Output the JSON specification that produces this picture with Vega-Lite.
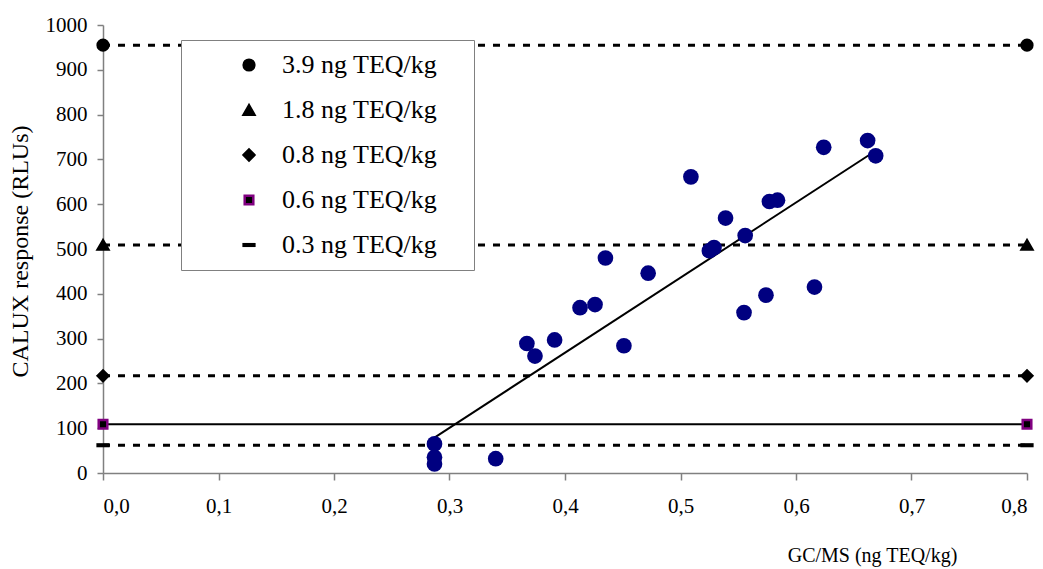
{
  "$schema": "https://vega.github.io/schema/vega-lite/v6.json",
  "width": 924,
  "height": 448,
  "autosize": {"type": "none"},
  "padding": {"left": 103, "top": 25, "right": 16, "bottom": 96},
  "background": "white",
  "config": {
    "view": {"stroke": null},
    "font": "Liberation Serif",
    "axis": {
      "grid": false,
      "domainColor": "#808080",
      "domainWidth": 1.5,
      "tickColor": "#808080",
      "tickWidth": 1.5,
      "labelFont": "Liberation Serif",
      "labelFontSize": 21,
      "labelColor": "black",
      "titleFont": "Liberation Serif",
      "titleFontWeight": "normal",
      "titleColor": "black"
    },
    "legend": {
      "labelFont": "Liberation Serif",
      "labelFontSize": 26,
      "labelColor": "black"
    }
  },
  "datasets": {
    "samples": [
      {"gcms": 0.287, "calux": 65},
      {"gcms": 0.287, "calux": 35},
      {"gcms": 0.287, "calux": 20},
      {"gcms": 0.340, "calux": 32},
      {"gcms": 0.367, "calux": 289},
      {"gcms": 0.374, "calux": 261},
      {"gcms": 0.391, "calux": 297},
      {"gcms": 0.413, "calux": 369},
      {"gcms": 0.426, "calux": 376},
      {"gcms": 0.435, "calux": 480},
      {"gcms": 0.451, "calux": 284},
      {"gcms": 0.472, "calux": 446},
      {"gcms": 0.509, "calux": 661},
      {"gcms": 0.525, "calux": 496},
      {"gcms": 0.529, "calux": 503},
      {"gcms": 0.539, "calux": 569},
      {"gcms": 0.556, "calux": 530},
      {"gcms": 0.555, "calux": 358},
      {"gcms": 0.574, "calux": 397},
      {"gcms": 0.577, "calux": 606},
      {"gcms": 0.584, "calux": 609},
      {"gcms": 0.616, "calux": 415},
      {"gcms": 0.624, "calux": 727},
      {"gcms": 0.662, "calux": 742},
      {"gcms": 0.669, "calux": 708}
    ],
    "refs": [
      {"level": "3.9 ng TEQ/kg", "gcms": 0, "calux": 955},
      {"level": "3.9 ng TEQ/kg", "gcms": 0.8, "calux": 955},
      {"level": "1.8 ng TEQ/kg", "gcms": 0, "calux": 509},
      {"level": "1.8 ng TEQ/kg", "gcms": 0.8, "calux": 509},
      {"level": "0.8 ng TEQ/kg", "gcms": 0, "calux": 217},
      {"level": "0.8 ng TEQ/kg", "gcms": 0.8, "calux": 217},
      {"level": "0.6 ng TEQ/kg", "gcms": 0, "calux": 109},
      {"level": "0.6 ng TEQ/kg", "gcms": 0.8, "calux": 109},
      {"level": "0.3 ng TEQ/kg", "gcms": 0, "calux": 62},
      {"level": "0.3 ng TEQ/kg", "gcms": 0.8, "calux": 62}
    ],
    "fit": [
      {"gcms": 0.287, "calux": 79},
      {"gcms": 0.670, "calux": 721}
    ]
  },
  "encoding": {
    "x": {
      "field": "gcms",
      "type": "quantitative",
      "scale": {"domain": [0, 0.8], "nice": false, "zero": false},
      "axis": {
        "values": [0, 0.1, 0.2, 0.3, 0.4, 0.5, 0.6, 0.7, 0.8],
        "labelExpr": "replace(format(datum.value, '.1f'), '.', ',')",
        "tickSize": 7,
        "labelPadding": 15,
        "title": "GC/MS (ng TEQ/kg)",
        "titleFontSize": 20,
        "titleX": 769,
        "titleY": 82,
        "titleAlign": "center",
        "titleBaseline": "middle"
      }
    },
    "y": {
      "field": "calux",
      "type": "quantitative",
      "scale": {"domain": [0, 1000], "nice": false},
      "axis": {
        "values": [0, 100, 200, 300, 400, 500, 600, 700, 800, 900, 1000],
        "format": "d",
        "tickSize": 6,
        "labelPadding": 10,
        "title": "CALUX response (RLUs)",
        "titleFontSize": 24,
        "titleAngle": -90,
        "titleX": -83,
        "titleY": 226,
        "titleAlign": "center",
        "titleBaseline": "middle"
      }
    }
  },
  "layer": [
    {
      "data": {"name": "refs"},
      "transform": [{"filter": "datum.level != '0.6 ng TEQ/kg'"}],
      "mark": {"type": "line", "color": "black", "strokeWidth": 3, "strokeDash": [7, 8]},
      "encoding": {"detail": {"field": "level", "type": "nominal"}}
    },
    {
      "data": {"name": "refs"},
      "transform": [{"filter": "datum.level == '0.6 ng TEQ/kg'"}],
      "mark": {"type": "line", "color": "black", "strokeWidth": 2},
      "encoding": {"detail": {"field": "level", "type": "nominal"}}
    },
    {
      "data": {"name": "fit"},
      "mark": {"type": "line", "color": "black", "strokeWidth": 2},
      "encoding": {}
    },
    {
      "data": {"name": "samples"},
      "mark": {"type": "point", "shape": "circle", "filled": true, "color": "#000080", "opacity": 1, "size": 245},
      "encoding": {}
    },
    {
      "data": {"name": "refs"},
      "mark": {"type": "point", "filled": true, "opacity": 1, "size": 115, "strokeWidth": 2.5},
      "encoding": {
        "shape": {
          "field": "level",
          "type": "nominal",
          "scale": {
            "domain": ["3.9 ng TEQ/kg", "1.8 ng TEQ/kg", "0.8 ng TEQ/kg", "0.6 ng TEQ/kg", "0.3 ng TEQ/kg"],
            "range": ["circle", "triangle-up", "diamond", "M-0.8,-0.8H0.8V0.8H-0.8Z", "M-1,-0.15H1V0.15H-1Z"]
          },
          "legend": {
            "title": "\u00a0",
            "titleOrient": "right",
            "titlePadding": 25,
            "titleFontSize": 4,
            "orient": "none",
            "legendX": 78,
            "legendY": 15,
            "direction": "vertical",
            "strokeColor": "#808080",
            "fillColor": "white",
            "padding": 12,
            "symbolOffset": 43,
            "labelOffset": 20,
            "rowPadding": 19,
            "labelLimit": 400,
            "symbolStrokeWidth": 2.5,
            "symbolSize": 115
          }
        },
        "fill": {
          "field": "level",
          "type": "nominal",
          "scale": {
            "domain": ["3.9 ng TEQ/kg", "1.8 ng TEQ/kg", "0.8 ng TEQ/kg", "0.6 ng TEQ/kg", "0.3 ng TEQ/kg"],
            "range": ["black", "black", "black", "black", "black"]
          }
        },
        "stroke": {
          "field": "level",
          "type": "nominal",
          "scale": {
            "domain": ["3.9 ng TEQ/kg", "1.8 ng TEQ/kg", "0.8 ng TEQ/kg", "0.6 ng TEQ/kg", "0.3 ng TEQ/kg"],
            "range": ["black", "black", "black", "#800080", "black"]
          }
        }
      }
    }
  ]
}
